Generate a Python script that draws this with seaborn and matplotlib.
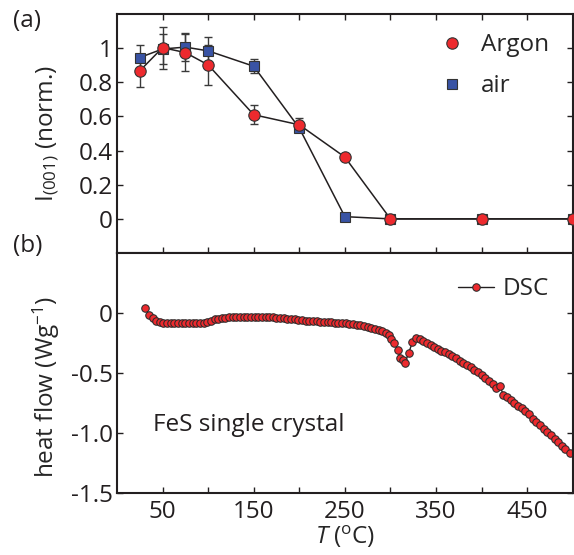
import numpy as np
import pandas as pd
import matplotlib
matplotlib.use("Agg")
import matplotlib.pyplot as plt
import seaborn as sns
from matplotlib.lines import Line2D

# ---------------- data ----------------
argon_T = [25, 50, 75, 100, 150, 200, 250, 300, 400, 500]
argon_I = [0.867, 1.003, 0.974, 0.902, 0.610, 0.551, 0.362, 0.0, 0.0, 0.0]
argon_err = [0.097, 0.123, 0.110, 0.117, 0.057, 0.038, 0.0, 0.0, 0.0, 0.0]

air_T = [25, 50, 75, 100, 150, 200, 250, 300, 400, 500]
air_I = [0.945, 0.995, 1.006, 0.984, 0.894, 0.532, 0.013, 0.0, 0.0, 0.0]
air_err = [0.075, 0.088, 0.080, 0.080, 0.041, 0.020, 0.0, 0.0, 0.0, 0.0]

dsc_T = [31, 35, 39, 43, 47, 51, 55, 59, 63, 67,
         71, 75, 79, 83, 87, 91, 95, 99, 103, 107,
         111, 115, 119, 123, 127, 131, 135, 139, 143, 147,
         151, 155, 159, 163, 167, 171, 175, 179, 183, 187,
         191, 195, 199, 203, 207, 211, 215, 219, 223, 227,
         231, 235, 239, 243, 247, 251, 255, 259, 263, 267,
         271, 275, 279, 283, 287, 291, 295, 298, 301, 304,
         308, 311, 314, 316, 320, 324, 328, 332, 336, 340,
         344, 348, 352, 356, 360, 364, 368, 372, 376, 380,
         384, 388, 392, 396, 400, 404, 408, 412, 416, 420,
         424, 428, 432, 436, 440, 444, 448, 452, 456, 460,
         464, 468, 472, 476, 480, 484, 488, 492, 497]
dsc_HF = [0.045, -0.015, -0.045, -0.065, -0.075, -0.080, -0.083, -0.083, -0.082, -0.082,
          -0.082, -0.082, -0.082, -0.082, -0.082, -0.082, -0.080, -0.074, -0.064, -0.054,
          -0.046, -0.041, -0.038, -0.036, -0.035, -0.034, -0.034, -0.033, -0.033, -0.033,
          -0.033, -0.033, -0.033, -0.034, -0.035, -0.037, -0.039, -0.042, -0.045, -0.048,
          -0.051, -0.054, -0.057, -0.060, -0.063, -0.066, -0.068, -0.070, -0.072, -0.074,
          -0.076, -0.078, -0.080, -0.082, -0.084, -0.086, -0.089, -0.093, -0.097, -0.102,
          -0.108, -0.115, -0.122, -0.130, -0.138, -0.150, -0.165, -0.185, -0.215, -0.250,
          -0.307, -0.376, -0.395, -0.413, -0.334, -0.245, -0.210, -0.220, -0.235, -0.250,
          -0.266, -0.282, -0.298, -0.313, -0.329, -0.345, -0.362, -0.379, -0.396, -0.414,
          -0.432, -0.452, -0.473, -0.495, -0.518, -0.541, -0.565, -0.590, -0.625, -0.612,
          -0.680, -0.702, -0.725, -0.748, -0.771, -0.795, -0.820, -0.845, -0.885, -0.910,
          -0.937, -0.964, -0.992, -1.020, -1.048, -1.076, -1.105, -1.135, -1.170]

x_ticks = [50, 100, 150, 200, 250, 300, 350, 400, 450]
x_ticklabels = ["50", "", "150", "", "250", "", "350", "", "450"]
top_yticks = [0, 0.2, 0.4, 0.6, 0.8, 1.0]
top_yticklabels = ["0", "0.2", "0.4", "0.6", "0.8", "1"]
bot_yticks = [-1.5, -1.0, -0.5, 0]
bot_yticklabels = ["-1.5", "-1.0", "-0.5", "0"]

# ---------------- style ----------------
sns.set_style("ticks")
plt.rcParams["font.family"] = ["Open Sans", "DejaVu Sans"]
plt.rcParams["mathtext.fontset"] = "custom"
plt.rcParams["mathtext.rm"] = "Open Sans"
plt.rcParams["mathtext.it"] = "Open Sans:italic"
plt.rcParams["axes.unicode_minus"] = False
INK = "#231F20"
RED = "#ED2A2E"
BLUE = "#3953A4"
FS = 17.5

fig = plt.figure(figsize=(5.74, 5.55), dpi=100)
ax1 = fig.add_axes([0.2038, 0.5441, 0.7940, 0.4307])
ax2 = fig.add_axes([0.2038, 0.1117, 0.7940, 0.4324])

# ---------------- top panel ----------------
ax1.errorbar(air_T, air_I, yerr=air_err, fmt="none", ecolor="#3a3a3a",
             elinewidth=1.0, capsize=3, capthick=1.0, zorder=2)
ax1.errorbar(argon_T, argon_I, yerr=argon_err, fmt="none", ecolor="#3a3a3a",
             elinewidth=1.0, capsize=3, capthick=1.0, zorder=2)
sns.lineplot(x=air_T, y=air_I, ax=ax1, color=INK, lw=1.1, marker="s",
             markersize=6.5, markerfacecolor=BLUE, markeredgecolor="#333333",
             markeredgewidth=0.8, errorbar=None, sort=False, zorder=3)
sns.lineplot(x=argon_T, y=argon_I, ax=ax1, color=INK, lw=1.1, marker="o",
             markersize=8.2, markerfacecolor=RED, markeredgecolor="#333333",
             markeredgewidth=0.8, errorbar=None, sort=False, zorder=4)

handles = [
    Line2D([], [], ls="none", marker="o", markersize=8.2, markerfacecolor=RED,
           markeredgecolor="#333333", markeredgewidth=0.8),
    Line2D([], [], ls="none", marker="s", markersize=6.5, markerfacecolor=BLUE,
           markeredgecolor="#333333", markeredgewidth=0.8),
]
ax1.legend(handles, ["Argon", "air"], loc="upper right", frameon=False,
           fontsize=FS, handletextpad=0.7, labelspacing=0.7,
           borderaxespad=0.3, handlelength=1.0, bbox_to_anchor=(0.985, 0.99))

ax1.set_xlim(0, 500)
ax1.set_ylim(-0.2, 1.2)
ax1.set_xticks(x_ticks)
ax1.set_xticklabels([])
ax1.set_yticks(top_yticks)
ax1.set_yticklabels(top_yticklabels)
ax1.set_ylabel("I$_{(001)}$ (norm.)", fontsize=FS)
ax1.yaxis.set_label_coords(-0.12, 0.5)
ax1.tick_params(direction="in", length=4, width=1, top=True, right=True,
                labelsize=FS, colors=INK)
ax1.tick_params(axis="y", pad=3)

# ---------------- bottom panel ----------------
sns.lineplot(x=dsc_T, y=dsc_HF, ax=ax2, color=INK, lw=1.0, marker="o",
             markersize=5.4, markerfacecolor=RED, markeredgecolor="#2a2a2a",
             markeredgewidth=0.75, errorbar=None, sort=False, label="DSC")
ax2.legend(loc="upper right", frameon=False, fontsize=FS, handlelength=1.5,
           handletextpad=0.35, borderaxespad=0.3, bbox_to_anchor=(0.985, 0.97))
ax2.text(39, -0.934, "FeS single crystal", fontsize=FS, color=INK,
         ha="left", va="center")

ax2.set_xlim(0, 500)
ax2.set_ylim(-1.5, 0.5)
ax2.set_xticks(x_ticks)
ax2.set_xticklabels(x_ticklabels)
ax2.set_yticks(bot_yticks)
ax2.set_yticklabels(bot_yticklabels)
ax2.set_ylabel("heat flow (Wg$^{-1}$)", fontsize=FS)
ax2.yaxis.set_label_coords(-0.12, 0.444)
ax2.set_xlabel("$T$ ($^{\\rm o}$C)", fontsize=FS, labelpad=0)
ax2.tick_params(direction="in", length=4, width=1, top=False, right=True,
                labelsize=FS, colors=INK, pad=5)
ax2.tick_params(axis="y", pad=3)

for ax in (ax1, ax2):
    for sp in ax.spines.values():
        sp.set_linewidth(1.5)
        sp.set_color(INK)
        sp.set_visible(True)

fig.text(0.022, 0.963, "(a)", fontsize=FS, color=INK, ha="left", va="center")
fig.text(0.022, 0.557, "(b)", fontsize=FS, color=INK, ha="left", va="center")

fig.savefig("out.png", dpi=100)
